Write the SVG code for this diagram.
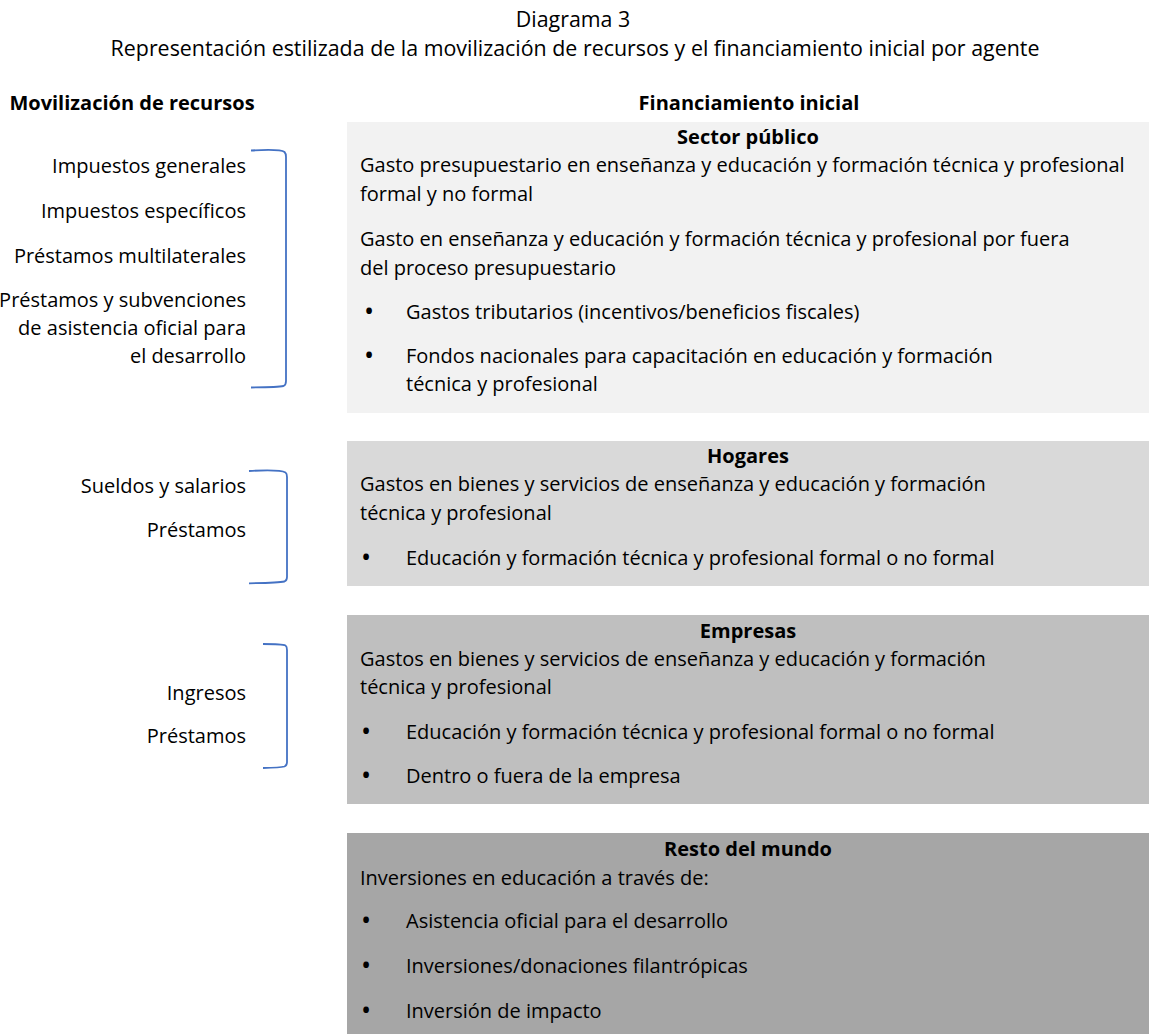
<svg xmlns="http://www.w3.org/2000/svg" width="1149" height="1034" viewBox="0 0 1149 1034">
<style>
text { font-family: "Open Sans", "Noto Sans", "DejaVu Sans", sans-serif; fill: #000; font-size: 20px; }
.title { font-size: 21.4px; text-anchor: middle; }
.hdr { font-weight: bold; font-size: 20px; text-anchor: middle; }
.lbl { text-anchor: end; }
.bul { font-size: 27px; text-anchor: middle; }
.brk { fill: none; stroke: #4472C4; stroke-width: 1.8; }
</style>
<rect width="1149" height="1034" fill="#fff"/>

<g id="title">
  <text class="title" x="573" y="26.5">Diagrama 3</text>
  <text class="title" x="575" y="56">Representación estilizada de la movilización de recursos y el financiamiento inicial por agente</text>
</g>

<g id="col-headers">
  <text class="hdr" x="132" y="110">Movilización de recursos</text>
  <text class="hdr" x="749" y="110">Financiamiento inicial</text>
</g>

<g id="resources-public">
  <text class="lbl" x="246" y="173">Impuestos generales</text>
  <text class="lbl" x="246" y="218">Impuestos específicos</text>
  <text class="lbl" x="246" y="263">Préstamos multilaterales</text>
  <text class="lbl" x="246" y="307">Préstamos y subvenciones</text>
  <text class="lbl" x="246" y="335">de asistencia oficial para</text>
  <text class="lbl" x="246" y="363">el desarrollo</text>
</g>

<g id="resources-households">
  <text class="lbl" x="246" y="493">Sueldos y salarios</text>
  <text class="lbl" x="246" y="537">Préstamos</text>
</g>

<g id="resources-firms">
  <text class="lbl" x="246" y="700">Ingresos</text>
  <text class="lbl" x="246" y="743">Préstamos</text>
</g>

<g id="connectors">
  <path class="brk" d="M251,150.5 C268,149.5 282,150 284.5,152 Q286,153.5 286,157 L286,381 Q286,385 283.5,386 C279,387 268,387.3 251,387.5"/>
  <path class="brk" d="M249,471 C267,470 282,470.5 285.5,472.5 Q287,473.5 287,477 L287,577 Q287,580.5 284.5,581.5 C279,582.7 267,583 249,583.3"/>
  <path class="brk" d="M263,644 C274,644 283,644.3 285.5,645.5 Q287,646.5 287,650 L287,762 Q287,765.5 284.5,766.5 C281,767.5 274,767.8 263,768"/>
</g>

<g id="sector-publico">
  <rect x="347" y="122" width="802" height="291" fill="#F2F2F2"/>
  <text class="hdr" x="748" y="144">Sector público</text>
  <text x="360" y="172">Gasto presupuestario en enseñanza y educación y formación técnica y profesional</text>
  <text x="360" y="201">formal y no formal</text>
  <text x="360" y="246">Gasto en enseñanza y educación y formación técnica y profesional por fuera</text>
  <text x="360" y="275">del proceso presupuestario</text>
  <text class="bul" x="369" y="321">•</text>
  <text x="406" y="319">Gastos tributarios (incentivos/beneficios fiscales)</text>
  <text class="bul" x="369" y="365">•</text>
  <text x="406" y="363">Fondos nacionales para capacitación en educación y formación</text>
  <text x="406" y="391">técnica y profesional</text>
</g>

<g id="hogares">
  <rect x="347" y="441" width="802" height="145" fill="#D9D9D9"/>
  <text class="hdr" x="748" y="463">Hogares</text>
  <text x="360" y="491">Gastos en bienes y servicios de enseñanza y educación y formación</text>
  <text x="360" y="520">técnica y profesional</text>
  <text class="bul" x="366" y="567">•</text>
  <text x="406" y="565">Educación y formación técnica y profesional formal o no formal</text>
</g>

<g id="empresas">
  <rect x="347" y="615" width="802" height="189" fill="#BFBFBF"/>
  <text class="hdr" x="748" y="638">Empresas</text>
  <text x="360" y="666">Gastos en bienes y servicios de enseñanza y educación y formación</text>
  <text x="360" y="694">técnica y profesional</text>
  <text class="bul" x="366" y="741">•</text>
  <text x="406" y="739">Educación y formación técnica y profesional formal o no formal</text>
  <text class="bul" x="366" y="785">•</text>
  <text x="406" y="783">Dentro o fuera de la empresa</text>
</g>

<g id="resto-del-mundo">
  <rect x="347" y="833" width="802" height="201" fill="#A6A6A6"/>
  <text class="hdr" x="748" y="856">Resto del mundo</text>
  <text x="360" y="885">Inversiones en educación a través de:</text>
  <text class="bul" x="366" y="930">•</text>
  <text x="406" y="928">Asistencia oficial para el desarrollo</text>
  <text class="bul" x="366" y="975">•</text>
  <text x="406" y="973">Inversiones/donaciones filantrópicas</text>
  <text class="bul" x="366" y="1020">•</text>
  <text x="406" y="1018">Inversión de impacto</text>
</g>
</svg>
